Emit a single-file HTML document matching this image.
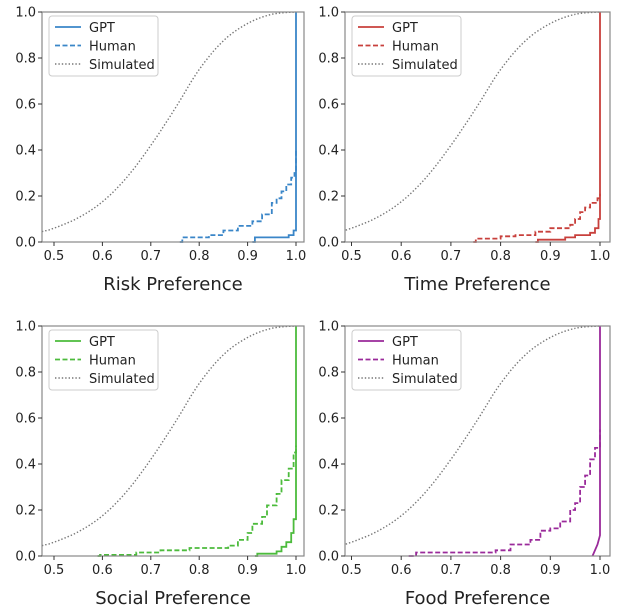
<!DOCTYPE html><html><head><style>body{margin:0;background:#fff}svg{display:block}text{font-family:"DejaVu Sans","Liberation Sans",sans-serif;fill:#222}</style></head><body>
<svg id="s" width="624" height="611" xmlns="http://www.w3.org/2000/svg"></svg>
<script>
const S=document.getElementById('s');let h='';
const sim=[[0.475,0.045],[0.5,0.06],[0.55,0.105],[0.6,0.175],[0.65,0.28],[0.7,0.42],[0.75,0.58],[0.8,0.75],[0.85,0.875],[0.9,0.95],[0.95,0.99],[1.0,1.0]];
function cr(p){let o=[];for(let i=0;i<p.length-1;i++){const a=p[Math.max(i-1,0)],b=p[i],c=p[i+1],d=p[Math.min(i+2,p.length-1)];for(let t=0;t<1;t+=0.1){const t2=t*t,t3=t2*t;const f=(k)=>0.5*((2*b[k])+(-a[k]+c[k])*t+(2*a[k]-5*b[k]+4*c[k]-d[k])*t2+(-a[k]+3*b[k]-3*c[k]+d[k])*t3);o.push([f(0),f(1)]);}}o.push(p[p.length-1]);return o;}
const simP=cr(sim);
function step(p){let o=[p[0]];for(let i=1;i<p.length;i++){o.push([p[i][0],p[i-1][1]]);o.push(p[i]);}return o;}
const P=[
{x0:42,w:262,t0:54,t1:296,y0:12,col:'#3a86c8',lab:'Risk Preference',
hu:[[0.76,0],[0.765,0.02],[0.82,0.03],[0.85,0.05],[0.88,0.07],[0.91,0.09],[0.93,0.12],[0.95,0.17],[0.96,0.19],[0.97,0.22],[0.98,0.25],[0.99,0.28],[0.997,0.3],[1.0,0.4]],
gp:[[0.91,0],[0.915,0.02],[0.985,0.03],[0.995,0.05],[1.0,0.06],[1.0,1.0]]},
{x0:345,w:265,t0:351.5,t1:600,y0:12,col:'#c8403c',lab:'Time Preference',
hu:[[0.745,0],[0.75,0.015],[0.8,0.025],[0.83,0.03],[0.87,0.045],[0.9,0.06],[0.94,0.075],[0.95,0.1],[0.96,0.13],[0.97,0.15],[0.98,0.17],[0.995,0.19],[1.0,0.21]],
gp:[[0.87,0],[0.875,0.01],[0.93,0.02],[0.95,0.03],[0.98,0.04],[0.99,0.06],[0.997,0.1],[1.0,0.2],[1.0,1.0]]},
{x0:42,w:262,t0:54,t1:296,y0:326,col:'#4cbb3c',lab:'Social Preference',
hu:[[0.59,0],[0.595,0.005],[0.67,0.015],[0.72,0.025],[0.78,0.035],[0.86,0.045],[0.88,0.07],[0.9,0.1],[0.91,0.14],[0.93,0.17],[0.94,0.22],[0.96,0.27],[0.97,0.33],[0.985,0.38],[0.995,0.45],[1.0,0.48]],
gp:[[0.915,0],[0.92,0.01],[0.96,0.02],[0.97,0.04],[0.98,0.06],[0.99,0.1],[0.995,0.16],[1.0,0.2],[1.0,1.0]]},
{x0:345,w:265,t0:351.5,t1:600,y0:326,col:'#9a2a9a',lab:'Food Preference',
hu:[[0.615,0],[0.63,0.015],[0.79,0.025],[0.82,0.05],[0.86,0.07],[0.88,0.11],[0.9,0.12],[0.92,0.15],[0.94,0.2],[0.95,0.23],[0.96,0.3],[0.97,0.35],[0.98,0.42],[0.99,0.47],[1.0,0.55]],
gp:[[0.985,0],[0.995,0.05],[1.0,0.09],[1.0,1.0]],slope:1}
];
for(const p of P){const H=230;const X=v=>p.t0+(v-0.5)*(p.t1-p.t0)/0.5,Y=v=>p.y0+H-v*H;
const pl=a=>a.map(q=>X(q[0]).toFixed(1)+','+Y(q[1]).toFixed(1)).join(' ');
h+=`<svg x="0" y="0"><defs><clipPath id="c${p.y0}${p.x0}"><rect x="${p.x0}" y="${p.y0-2}" width="${p.w}" height="${H+2}"/></clipPath></defs></svg>`;
h+=`<polyline clip-path="url(#c${p.y0}${p.x0})" points="${pl(simP)}" fill="none" stroke="#777" stroke-width="1.4" stroke-dasharray="1.4,2"/>`;
h+=`<polyline points="${pl(step(p.hu))}" fill="none" stroke="${p.col}" stroke-width="1.8" stroke-dasharray="5,2.5"/>`;
h+=`<polyline points="${pl(p.slope?p.gp:step(p.gp))}" fill="none" stroke="${p.col}" stroke-width="1.8"/>`;
h+=`<rect x="${p.x0}" y="${p.y0}" width="${p.w}" height="${H}" fill="none" stroke="#888" stroke-width="1.2"/>`;
for(let i=0;i<=5;i++){const v=i*0.2,y=Y(v);h+=`<line x1="${p.x0-4}" x2="${p.x0}" y1="${y}" y2="${y}" stroke="#333"/><text x="${p.x0-6}" y="${y+4.5}" font-size="13" text-anchor="end">${v.toFixed(1)}</text>`;}
for(let i=0;i<=5;i++){const v=0.5+i*0.1,x=X(v);h+=`<line x1="${x}" x2="${x}" y1="${p.y0+H}" y2="${p.y0+H+4}" stroke="#333"/><text x="${x}" y="${p.y0+H+18}" font-size="13" text-anchor="middle">${v.toFixed(1)}</text>`;}
h+=`<text x="${p.x0+p.w/2}" y="${p.y0+H+48}" font-size="18" text-anchor="middle">${p.lab}</text>`;
const lx=p.x0+7,ly=p.y0+4;
h+=`<rect x="${lx}" y="${ly}" width="109" height="60" rx="3" fill="#fff" stroke="#ccc"/>`;
h+=`<line x1="${lx+6}" x2="${lx+32}" y1="${ly+11}" y2="${ly+11}" stroke="${p.col}" stroke-width="1.8"/><text x="${lx+40}" y="${ly+16}" font-size="13">GPT</text>`;
h+=`<line x1="${lx+6}" x2="${lx+32}" y1="${ly+29.5}" y2="${ly+29.5}" stroke="${p.col}" stroke-width="1.8" stroke-dasharray="5,2.5"/><text x="${lx+40}" y="${ly+34.5}" font-size="13">Human</text>`;
h+=`<line x1="${lx+6}" x2="${lx+32}" y1="${ly+48}" y2="${ly+48}" stroke="#777" stroke-width="1.4" stroke-dasharray="1.4,2"/><text x="${lx+40}" y="${ly+53}" font-size="13">Simulated</text>`;
}
S.innerHTML=h;
</script></body></html>
